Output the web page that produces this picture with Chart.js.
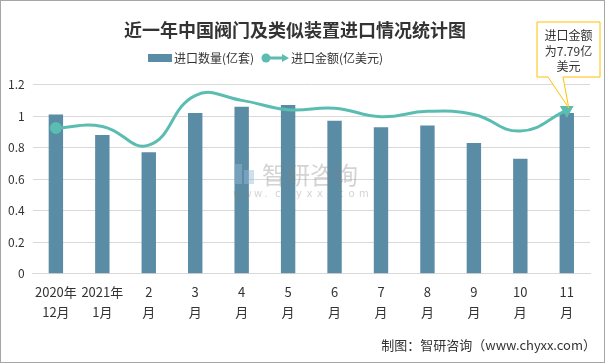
<!DOCTYPE html>
<html>
<head>
<meta charset="utf-8">
<script src="https://cdn.jsdelivr.net/npm/chart.js@4/dist/chart.umd.min.js"></script>
<style>
  html, body { margin: 0; padding: 0; background: #fff; }
  canvas { display: block; }
</style>
</head>
<body>
<canvas id="myChart" width="605" height="363"></canvas>
<script>
// ===========[Data]===========
const months = [
    ['2020年', '12月'], ['2021年', '1月'], ['2', '月'], ['3', '月'], ['4', '月'], ['5', '月'],
    ['6', '月'], ['7', '月'], ['8', '月'], ['9', '月'], ['10', '月'], ['11', '月']
];
const qty = [1.01, 0.88, 0.77, 1.02, 1.06, 1.07, 0.97, 0.93, 0.94, 0.83, 0.73, 1.02];   // 亿套
const amount = [6.93, 7.01, 6.12, 8.48, 8.25, 7.80, 7.88, 7.47, 7.73, 7.58, 6.79, 7.79]; // 亿美元
const yTicks = [0, 0.2, 0.4, 0.6, 0.8, 1, 1.2];

const barColor = '#5b8ca5';
const lineColor = '#5bbdb2';
const cjk = '"Noto Sans CJK SC", "Noto Sans", sans-serif';

// ===========[Custom drawing: legend, watermark, callout, source, frame]===========
const extras = {
    id: 'extras',
    afterDatasetsDraw(chart) {
        const ctx = chart.ctx;
        ctx.save();
        // watermark
        ctx.fillStyle = 'rgba(150,185,215,0.45)';
        ctx.fillRect(234, 164, 8, 20);
        ctx.fillRect(244, 170, 10, 14);
        ctx.fillStyle = 'rgba(130,130,130,0.35)';
        ctx.font = '24px ' + cjk;
        ctx.textBaseline = 'middle';
        ctx.textAlign = 'left';
        ctx.fillText('智研咨询', 262, 175);
        ctx.font = '10px "DejaVu Sans", sans-serif';
        const wm = 'www.chyxx.com';
        for (let i = 0; i < wm.length; i++) {
            ctx.fillText(wm[i], 233 + i * 10.5, 194);
        }
        ctx.restore();
    },
    afterDraw(chart) {
        const ctx = chart.ctx;
        ctx.save();
        // legend
        ctx.font = '12px ' + cjk;
        ctx.textBaseline = 'middle';
        ctx.textAlign = 'left';
        ctx.fillStyle = barColor;
        ctx.fillRect(148, 54, 24, 8);
        ctx.fillStyle = '#333';
        ctx.fillText('进口数量(亿套)', 174, 58);
        ctx.strokeStyle = lineColor;
        ctx.fillStyle = lineColor;
        ctx.lineWidth = 3;
        ctx.beginPath();
        ctx.moveTo(266, 58);
        ctx.lineTo(284, 58);
        ctx.stroke();
        ctx.beginPath();
        ctx.arc(266, 58, 4.5, 0, Math.PI * 2);
        ctx.fill();
        ctx.beginPath();
        ctx.moveTo(289, 58);
        ctx.lineTo(282, 54);
        ctx.lineTo(282, 62);
        ctx.closePath();
        ctx.fill();
        ctx.fillStyle = '#333';
        ctx.fillText('进口金额(亿美元)', 291, 58);

        // callout on last point
        const meta = chart.getDatasetMeta(1);
        const pt = meta.data[meta.data.length - 1];
        const bx = 537, by = 22, bw = 63, bh = 55;
        ctx.beginPath();
        ctx.moveTo(bx, by);
        ctx.lineTo(bx + bw, by);
        ctx.lineTo(bx + bw, by + bh);
        ctx.lineTo(563, by + bh);
        ctx.lineTo(pt.x + 2, pt.y - 2);
        ctx.lineTo(548, by + bh);
        ctx.lineTo(bx, by + bh);
        ctx.closePath();
        ctx.fillStyle = '#fff';
        ctx.fill();
        ctx.strokeStyle = '#ffc000';
        ctx.lineWidth = 1;
        ctx.stroke();
        ctx.fillStyle = '#333';
        ctx.textAlign = 'center';
        ctx.font = '12px ' + cjk;
        ctx.fillText('进口金额', bx + bw / 2, 35);
        ctx.fillText('为' + amount[amount.length - 1] + '亿', bx + bw / 2, 51);
        ctx.fillText('美元', bx + bw / 2, 66);

        // source
        ctx.textAlign = 'right';
        ctx.font = '13px ' + cjk;
        ctx.fillText('制图：智研咨询（www.chyxx.com）', 596, 345);

        // frame
        ctx.strokeStyle = '#a6a6a6';
        ctx.strokeRect(0.5, 0.5, 604, 362);
        ctx.restore();
    }
};

// ===========[Chart]===========
const data = {
    labels: months,
    datasets: [{
        type: 'bar',
        label: '进口数量(亿套)',
        data: qty,
        backgroundColor: barColor,
        barPercentage: 0.31,
        categoryPercentage: 1,
        yAxisID: 'y',
        order: 2
    }, {
        type: 'line',
        label: '进口金额(亿美元)',
        data: amount,
        borderColor: lineColor,
        backgroundColor: lineColor,
        borderWidth: 3,
        tension: 0.45,
        pointRadius: amount.map((v, i) => (i === 0 ? 4.5 : (i === amount.length - 1 ? 5 : 0))),
        pointStyle: amount.map((v, i) => (i === amount.length - 1 ? 'triangle' : 'circle')),
        pointRotation: amount.map((v, i) => (i === amount.length - 1 ? 60 : 0)),
        yAxisID: 'y2',
        order: 1
    }]
};

const config = {
    type: 'bar',
    data: data,
    options: {
        responsive: false,
        animation: false,
        layout: { padding: { left: 0, right: 15, bottom: 33, top: 0 } },
        plugins: {
            legend: { display: false },
            tooltip: { enabled: false },
            title: {
                display: true,
                text: '近一年中国阀门及类似装置进口情况统计图',
                color: '#333',
                font: { family: cjk, size: 18, weight: 'bold' },
                padding: { top: 19, bottom: 44 }
            }
        },
        scales: {
            x: {
                grid: { display: false, drawTicks: false },
                border: { color: '#d9d9d9' },
                ticks: {
                    color: '#333',
                    font: { family: cjk, size: 13, lineHeight: 1.55 },
                    padding: 8,
                    maxRotation: 0,
                    autoSkip: false
                }
            },
            y: {
                min: 0,
                max: 1.2,
                afterBuildTicks(axis) { axis.ticks = yTicks.map(v => ({ value: v })); },
                grid: { color: '#d9d9d9', drawTicks: false },
                border: { display: false },
                ticks: {
                    color: '#333',
                    font: { family: cjk, size: 12 },
                    padding: 8,
                    callback: v => String(Math.round(v * 10) / 10)
                }
            },
            y2: {
                display: false,
                min: 0,
                max: 9
            }
        }
    },
    plugins: [extras]
};

const myChart = new Chart(document.getElementById('myChart'), config);
</script>
</body>
</html>
